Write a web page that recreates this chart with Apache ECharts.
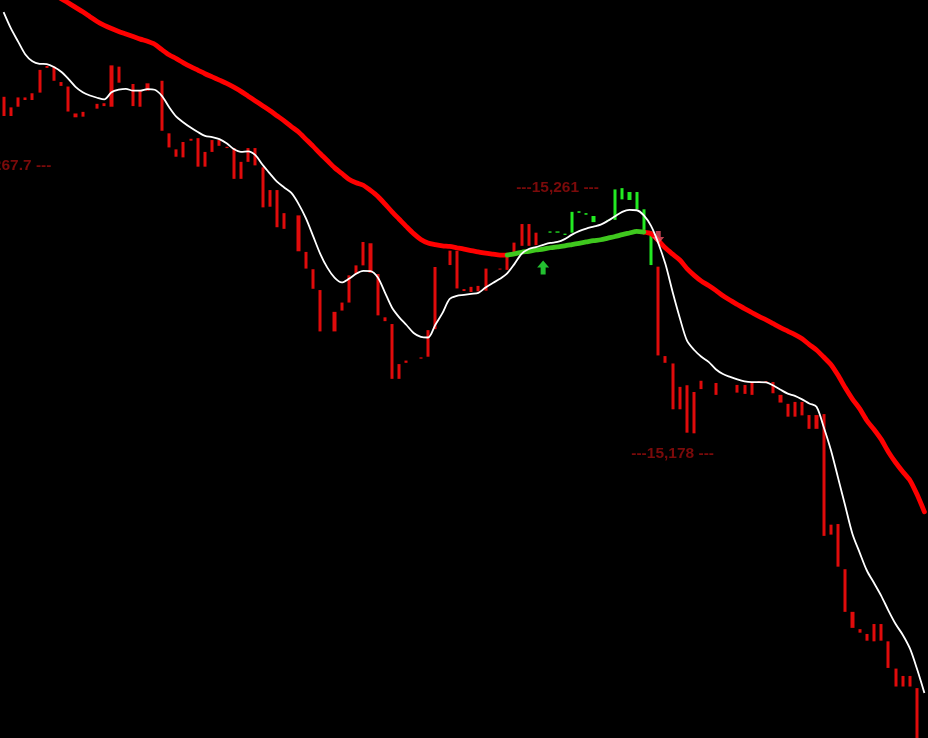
<!DOCTYPE html>
<html><head><meta charset="utf-8">
<script src="https://cdn.jsdelivr.net/npm/echarts@6/dist/echarts.min.js"></script>
<style>html,body{margin:0;padding:0;background:#000;}#chart{width:928px;height:738px;}</style>
</head><body><div id="chart"></div>
<script>
// ---- data ----
const categories = Array.from({length: 129}, (_, i) => String(i + 1));

const barHigh = [
15289.3,15286.0,15289.1,15289.1,15290.4,15297.7,15298.9,15298.7,15293.9,15292.5,
15284.1,15284.6,null,15287.1,15287.3,15299.1,15298.7,null,15293.3,15291.2,
15293.5,null,15294.3,15277.9,15272.9,15275.2,15276.2,15276.4,15272.1,15275.8,
15275.8,15273.7,15273.3,15269.0,15273.3,15273.3,15267.3,15260.2,15260.2,15253.0,
null,15252.3,15240.9,15235.5,15229.0,null,15222.2,15225.1,15233.6,15236.7,
15244.0,15243.6,15234.0,15220.5,15218.4,15205.9,15207.0,null,15208.0,15216.5,
15236.2,null,15241.3,15241.3,15229.3,15230.0,15230.3,15235.7,null,15235.7,
15239.6,15243.8,15249.6,15249.6,15246.9,null,15247.3,15247.3,15246.6,15253.4,
15253.6,15253.0,15252.1,null,15250.9,15260.4,15260.8,15259.6,15259.6,15254.2,
15247.3,15236.3,15208.4,15206.1,15198.8,15199.3,15197.2,15200.7,null,15200.0,
null,null,15199.4,15199.4,15200.3,15200.6,15200.6,15200.3,15196.3,15193.5,
15194.1,15194.1,15190.0,15190.0,15190.3,15155.8,15156.0,15141.9,15128.6,15123.2,
15121.7,15124.8,15124.8,15119.4,15110.9,15108.6,15108.6,15104.8,null
];
const barLow = [
15283.3,15283.3,15286.2,15288.3,15288.3,15290.6,15298.3,15294.3,15292.7,15284.7,
15282.9,15283.1,null,15285.6,15286.4,15286.2,15293.7,null,15286.4,15286.2,
15291.2,null,15278.7,15273.5,15270.6,15270.4,15275.6,15267.5,15267.5,15272.1,
15274.0,15273.3,15263.7,15263.7,15269.0,15267.9,15254.8,15255.0,15248.6,15248.1,
null,15241.1,15235.7,15229.4,15216.1,null,15216.1,15222.6,15225.1,15234.0,
15236.7,15234.4,15221.1,15219.3,15201.3,15201.3,15206.3,null,15207.6,15208.2,
15216.8,null,15236.8,15229.5,15228.7,15228.4,15228.6,15228.8,null,15235.4,
15235.3,15239.9,15242.8,15242.8,15243.0,null,15246.9,15246.9,15246.2,15246.9,
15253.1,15252.5,15250.2,null,15250.5,15250.9,15257.3,15257.1,15254.2,15247.7,
15236.8,15208.6,15206.3,15191.8,15191.8,15184.5,15184.3,15198.1,null,15196.3,
null,null,15197.0,15196.6,15196.3,15200.2,15200.2,15196.8,15193.9,15189.5,
15189.5,15189.9,15185.7,15185.7,15152.3,15152.7,15142.7,15128.6,15123.6,15122.1,
15119.6,15119.4,15119.6,15111.1,15105.3,15105.3,15105.3,15085.5,null
];
const fastMA = [
15315.7,15310.7,15306.6,15302.6,15300.4,15299.6,15299.5,15298.6,15297.1,15294.9,
15292.4,15290.7,15289.7,15289.0,15288.5,15290.7,15291.5,15291.8,15291.2,15291.2,
15291.7,15291.5,15289.6,15286.1,15283.1,15281.3,15279.7,15278.3,15277.1,15276.7,
15276.1,15274.8,15273.0,15272.1,15272.3,15271.1,15268.1,15265.4,15262.8,15261.0,
15259.3,15255.9,15251.5,15246.0,15240.4,15236.0,15232.9,15231.4,15232.5,15234.1,
15235.0,15234.9,15233.0,15228.3,15223.5,15220.5,15218.1,15215.6,15214.4,15214.2,
15218.1,15221.8,15226.2,15227.2,15227.5,15227.8,15228.1,15229.8,15231.2,15232.5,
15234.2,15237.1,15240.3,15241.8,15242.4,15243.1,15243.7,15244.0,15244.9,15246.3,
15247.4,15248.2,15248.8,15249.4,15250.6,15252.0,15253.4,15254.0,15253.9,15252.3,
15249.0,15243.7,15237.1,15228.4,15220.3,15213.2,15210.3,15208.2,15206.6,15204.3,
15202.8,15201.9,15201.1,15200.5,15200.3,15200.3,15200.2,15199.2,15197.9,15196.7,
15196.0,15194.9,15193.6,15192.6,15186.3,15179.1,15170.4,15161.6,15152.9,15147.1,
15141.5,15137.6,15133.6,15129.0,15124.8,15121.4,15117.1,15110.6,15103.3
];
const slowMA = [
15331.0,15329.5,15328.1,15326.7,15325.3,15323.9,15322.5,15321.2,15319.9,15318.6,
15317.2,15315.8,15314.3,15312.8,15311.6,15310.6,15309.7,15308.9,15308.1,15307.3,
15306.6,15305.7,15304.0,15302.4,15301.2,15299.9,15298.7,15297.6,15296.5,15295.5,
15294.5,15293.5,15292.3,15291.0,15289.5,15288.0,15286.5,15285.0,15283.4,15281.8,
15280.0,15278.3,15276.1,15273.9,15271.6,15269.4,15267.2,15265.4,15263.6,15262.5,
15261.7,15260.1,15258.3,15255.9,15253.4,15251.1,15248.8,15246.6,15244.8,15243.7,
15243.2,15242.8,15242.6,15242.2,15241.8,15241.3,15240.9,15240.5,15240.2,15239.9,
15239.9,15240.3,15240.8,15241.1,15241.5,15241.8,15242.2,15242.5,15242.8,15243.2,
15243.6,15244.0,15244.4,15244.7,15245.2,15245.7,15246.3,15246.8,15247.3,15247.1,
15246.6,15244.5,15242.1,15240.2,15238.4,15235.7,15233.6,15231.8,15230.4,15228.9,
15227.2,15225.8,15224.5,15223.2,15222.0,15220.8,15219.7,15218.5,15217.3,15216.2,
15215.1,15213.8,15212.0,15210.3,15208.1,15205.8,15202.4,15198.5,15195.0,15192.0,
15188.3,15185.5,15182.4,15178.5,15175.2,15172.3,15169.6,15165.1,15159.8
];
const GREEN_BARS = [76, 90];      // bars drawn green
const GREEN_MA = [70, 89];        // slow average drawn green
const buySignal = {index: 75, price: 15236.0};
const sellSignal = {index: 91, price: 15245.4};
const levelIndex = [0, 77, 93];
const levelPrice = [15267.7, 15261, 15178];
const levelText = ['---15,267.7 ---', '---15,261 ---', '---15,178 ---'];
const Y_MIN = 15089.24, Y_MAX = 15319.5;

// ---- styles ----
const RED_BAR = '#e00b0b', GREEN_BAR = '#22ea22';
const RED_LINE = '#ff0000', GREEN_LINE = '#3fc81e';

const candleData = categories.map((c, i) => {
  if (barHigh[i] == null) return '-';
  const g = i >= GREEN_BARS[0] && i <= GREEN_BARS[1];
  const col = g ? GREEN_BAR : RED_BAR;
  return {
    value: [barLow[i], barHigh[i], barLow[i], barHigh[i]],
    itemStyle: {color: col, color0: col, borderColor: col, borderColor0: col, borderWidth: 0}
  };
});
const slowRed = slowMA.map((v, i) => (i > GREEN_MA[0] && i < GREEN_MA[1]) ? null : v);
const slowGreen = slowMA.map((v, i) => (i >= GREEN_MA[0] && i <= GREEN_MA[1]) ? v : null);

const chart = echarts.init(document.getElementById('chart'), null, {renderer: 'canvas'});
chart.setOption({
  backgroundColor: '#000',
  animation: false,
  grid: {left: 0, right: 0, top: 0, bottom: 0},
  xAxis: {type: 'category', data: categories, show: false, boundaryGap: true},
  yAxis: {type: 'value', min: Y_MIN, max: Y_MAX, show: false},
  series: [
    {
      type: 'candlestick', data: candleData, barWidth: 3.6, z: 2,
      itemStyle: {color: RED_BAR, color0: RED_BAR, borderColor: RED_BAR, borderColor0: RED_BAR, borderWidth: 0}
    },
    {
      type: 'line', data: slowRed, symbol: 'none', connectNulls: false, smooth: 0.25, z: 3,
      lineStyle: {color: RED_LINE, width: 4.8, cap: 'round', join: 'round'}
    },
    {
      type: 'line', data: slowGreen, symbol: 'none', smooth: 0.25, z: 3,
      lineStyle: {color: GREEN_LINE, width: 4.8, cap: 'round', join: 'round'}
    },
    {
      type: 'scatter', z: 4,
      data: [[categories[buySignal.index], buySignal.price]],
      symbol: 'path://M6,0 L12,6.5 L8.5,6.5 L8.5,13 L3.5,13 L3.5,6.5 L0,6.5 Z',
      symbolSize: [12, 14],
      itemStyle: {color: '#2cef3c'}
    },
    {
      type: 'scatter', z: 4,
      data: [[categories[sellSignal.index], sellSignal.price]],
      symbol: 'path://M3.5,0 L8.5,0 L8.5,6 L12,6 L6,13 L0,6 L3.5,6 Z',
      symbolSize: [12, 13],
      itemStyle: {color: 'rgba(255,84,104,0.92)'}
    },
    {
      type: 'line', data: fastMA, symbol: 'none', smooth: 0.3, z: 5,
      lineStyle: {color: '#ffffff', width: 1.8}
    },
    {
      type: 'scatter', z: 6, symbolSize: 1,
      itemStyle: {color: 'rgba(0,0,0,0)'},
      data: levelIndex.map((ix, k) => ({
        value: [categories[ix], levelPrice[k]],
        label: {formatter: levelText[k]}
      })),
      label: {
        show: true, position: 'inside', color: '#9a0c0c',
        fontFamily: 'Liberation Sans', fontWeight: 'bold', fontSize: 15.5
      }
    }
  ]
});
</script>
</body></html>
